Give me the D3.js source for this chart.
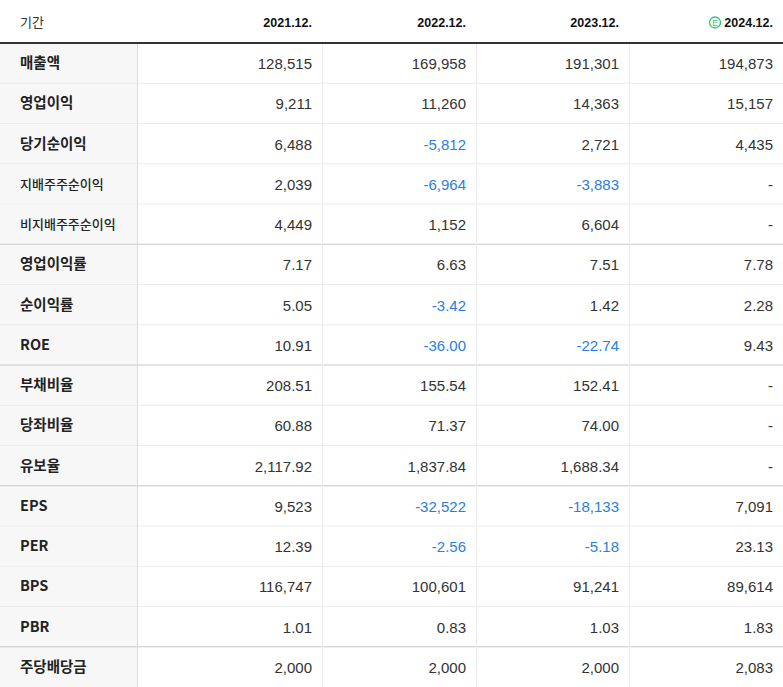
<!DOCTYPE html><html><head><meta charset="utf-8"><script src="https://cdn.jsdelivr.net/npm/d3@7"></script>
<style>body{margin:0;background:#fff}</style></head><body><svg id="c" width="783" height="687"></svg><script>
const periods=["2021.12.","2022.12.","2023.12.","2024.12."];
const rowLabels=["매출액","영업이익","당기순이익","지배주주순이익","비지배주주순이익","영업이익률","순이익률","ROE","부채비율","당좌비율","유보율","EPS","PER","BPS","PBR","주당배당금"];
const v2021=["128,515","9,211","6,488","2,039","4,449","7.17","5.05","10.91","208.51","60.88","2,117.92","9,523","12.39","116,747","1.01","2,000"];
const v2022=["169,958","11,260","-5,812","-6,964","1,152","6.63","-3.42","-36.00","155.54","71.37","1,837.84","-32,522","-2.56","100,601","0.83","2,000"];
const v2023=["191,301","14,363","2,721","-3,883","6,604","7.51","1.42","-22.74","152.41","74.00","1,688.34","-18,133","-5.18","91,241","1.03","2,000"];
const v2024=["194,873","15,157","4,435","-","-","7.78","2.28","9.43","-","-","-","7,091","23.13","89,614","1.83","2,083"];
const groupEnds=[4,7,10,14];
const cols=[v2021,v2022,v2023,v2024];
const svg=d3.select("#c");
const W=783,headH=43;
const xEdges=[0,137,322,476,629,783];
const y=d3.scaleBand().domain(d3.range(rowLabels.length)).range([headH,687]);
const F="'Noto Sans CJK KR','Noto Sans',sans-serif";
svg.append("rect").attr("x",0).attr("y",headH).attr("width",137).attr("height",687-headH).attr("fill","#f7f7f7");
rowLabels.forEach((l,i)=>{
  const yy=y(i)+y.bandwidth();
  if(i<rowLabels.length-1) svg.append("line").attr("x1",0).attr("x2",W).attr("y1",yy).attr("y2",yy)
    .attr("stroke",groupEnds.includes(i)?"#c8c8c8":"#ececec").attr("stroke-width",1);
});
xEdges.slice(1,5).forEach((x,i)=>svg.append("line").attr("x1",x+0.5).attr("x2",x+0.5).attr("y1",headH).attr("y2",687)
  .attr("stroke",i==0?"#dcdcdc":"#ececec"));
svg.append("line").attr("x1",0).attr("x2",W).attr("y1",headH).attr("y2",headH).attr("stroke","#333").attr("stroke-width",2);
svg.append("text").attr("x",20).attr("y",27).text("기간").attr("font-family",F).attr("font-size",13).attr("fill","#333");
periods.forEach((p,i)=>{
  svg.append("text").attr("x",xEdges[i+2]-10).attr("y",27).attr("text-anchor","end").text(p)
    .attr("font-family","'Liberation Sans',Arial,sans-serif").attr("font-size",12.5).attr("font-weight","bold").attr("fill","#111");
});
const ex=715;
svg.append("circle").attr("cx",ex).attr("cy",22.5).attr("r",5.5).attr("fill","none").attr("stroke","#2fc27a").attr("stroke-width",1.3);
svg.append("text").attr("x",ex).attr("y",25.8).attr("text-anchor","middle").text("E").attr("font-family","'Liberation Sans',sans-serif").attr("font-size",8.5).attr("fill","#2fc27a");
rowLabels.forEach((l,i)=>{
  const small=l.length>=7;
  svg.append("text").attr("x",20).attr("y",y(i)+y.bandwidth()/2+5).text(l)
    .attr("font-family",F).attr("font-size",small?13:14.5).attr("font-weight",small?500:"bold").attr("fill","#222");
});
cols.forEach((c,ci)=>c.forEach((v,i)=>{
  svg.append("text").attr("x",xEdges[ci+2]-10).attr("y",y(i)+y.bandwidth()/2+6).attr("text-anchor","end").text(v)
    .attr("font-family","'Liberation Sans',Arial,sans-serif").attr("font-size",15)
    .attr("fill",v.startsWith("-")&&v!="-"?"#2a7ee0":"#333");
}));
</script></body></html>
